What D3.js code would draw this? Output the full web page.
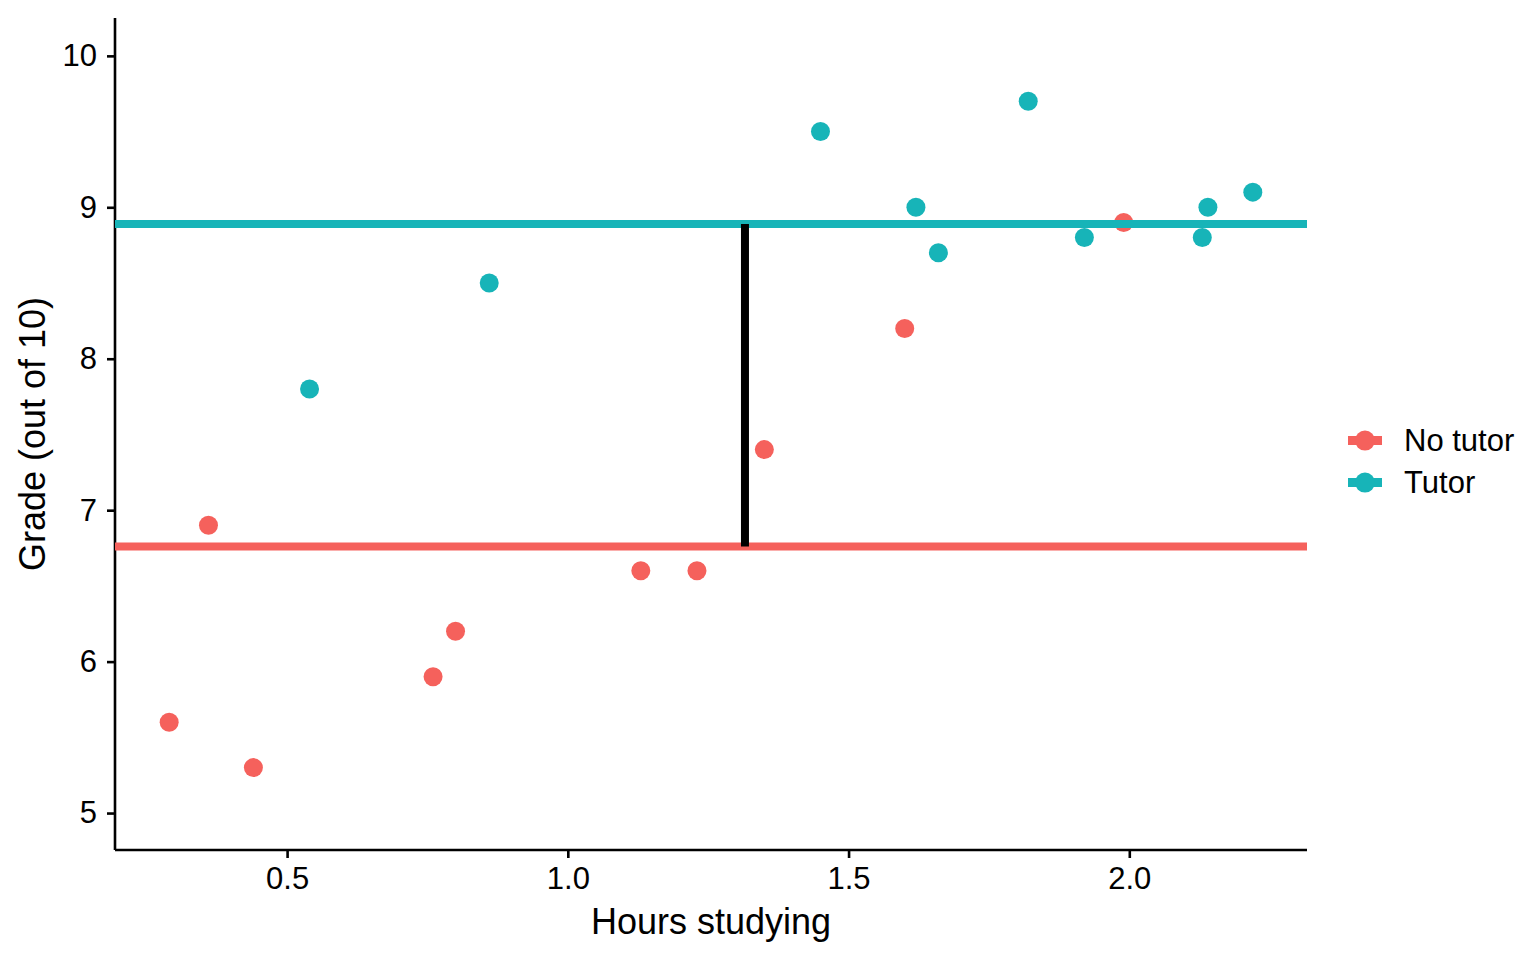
<!DOCTYPE html>
<html>
<head>
<meta charset="utf-8">
<script src="https://cdn.jsdelivr.net/npm/d3@7"></script>
<style>
  body { margin: 0; background: #fff; }
  text { font-family: "Liberation Sans", Arial, sans-serif; fill: #000; }
</style>
</head>
<body>
<div id="chart"></div>
<script>
// data
const groups = ["No tutor", "Tutor"];
const colors = ["#F5615C", "#17B4B8"];
const noTutorHours = [0.29, 0.36, 0.44, 0.76, 0.80, 1.13, 1.23, 1.35, 1.60, 1.99];
const noTutorGrade = [5.6, 6.9, 5.3, 5.9, 6.2, 6.6, 6.6, 7.4, 8.2, 8.9];
const tutorHours = [0.54, 0.86, 1.45, 1.62, 1.66, 1.82, 1.92, 2.13, 2.14, 2.22];
const tutorGrade = [7.8, 8.5, 9.5, 9.0, 8.7, 9.7, 8.8, 8.8, 9.0, 9.1];
const xTicks = [0.5, 1.0, 1.5, 2.0];
const yTicks = [5, 6, 7, 8, 9, 10];

const data = [
  ...noTutorHours.map((h, i) => ({ hours: h, grade: noTutorGrade[i], group: groups[0] })),
  ...tutorHours.map((h, i) => ({ hours: h, grade: tutorGrade[i], group: groups[1] }))
];
const means = groups.map(g => d3.mean(data.filter(d => d.group == g), d => d.grade));
const meanHours = d3.mean(data, d => d.hours);

// set the dimensions and margins of the graph
const W = 1536, H = 960;
const margin = { top: 18, right: 229, bottom: 110, left: 115 },
    width = W - margin.left - margin.right,
    height = H - margin.top - margin.bottom;

const svg = d3.select("#chart")
    .append("svg")
    .attr("width", W)
    .attr("height", H)
    .append("g")
    .attr("transform", `translate(${margin.left}, ${margin.top})`);

const color = d3.scaleOrdinal().domain(groups).range(colors);

// X axis
const x = d3.scaleLinear()
    .domain([0.1935, 2.3165])
    .range([0, width]);
const xAxis = svg.append("g")
    .attr("transform", `translate(0, ${height})`)
    .call(d3.axisBottom(x).tickValues(xTicks).tickFormat(d3.format(".1f")).tickSize(8).tickPadding(9));
svg.append("text")
    .attr("x", width / 2)
    .attr("y", height + 84)
    .attr("text-anchor", "middle")
    .style("font-size", "36px")
    .text("Hours studying");

// Y axis
const y = d3.scaleLinear()
    .domain([4.756, 10.25])
    .range([height, 0]);
const yAxis = svg.append("g")
    .call(d3.axisLeft(y).tickValues(yTicks).tickFormat(d3.format("d")).tickSize(8).tickPadding(10));
svg.append("text")
    .attr("transform", "rotate(-90)")
    .attr("x", -height / 2)
    .attr("y", -margin.left + 45)
    .attr("text-anchor", "middle")
    .style("font-size", "36px")
    .text("Grade (out of 10)");

[xAxis, yAxis].forEach(a => {
  a.select(".domain").attr("stroke-width", 2.6).attr("stroke", "#000");
  a.selectAll(".tick line").attr("stroke-width", 2.6).attr("stroke", "#000");
  a.selectAll(".tick text").style("font-size", "31px").attr("fill", "#000");
});
xAxis.select(".domain").attr("d", `M0,0H${width}`);
yAxis.select(".domain").attr("d", `M0,0V${height}`);

// points
svg.selectAll("circle.pt")
    .data(data)
    .join("circle")
    .attr("class", "pt")
    .attr("cx", d => x(d.hours))
    .attr("cy", d => y(d.grade))
    .attr("r", 9.5)
    .style("fill", d => color(d.group));

// group means
svg.selectAll("line.mean")
    .data(groups)
    .join("line")
    .attr("class", "mean")
    .attr("x1", 0)
    .attr("x2", width)
    .attr("y1", (g, i) => y(means[i]))
    .attr("y2", (g, i) => y(means[i]))
    .attr("stroke", g => color(g))
    .attr("stroke-width", 8);

// difference between the means
svg.append("line")
    .attr("x1", x(meanHours))
    .attr("x2", x(meanHours))
    .attr("y1", y(means[0]))
    .attr("y2", y(means[1]))
    .attr("stroke", "#000")
    .attr("stroke-width", 8);

// legend
const legend = svg.append("g")
    .attr("transform", `translate(${width + 41}, ${y(7.4) - 9})`);
const item = legend.selectAll("g")
    .data(groups)
    .join("g")
    .attr("transform", (g, i) => `translate(0, ${i * 42})`);
item.append("line")
    .attr("x1", 0).attr("x2", 34)
    .attr("stroke", g => color(g))
    .attr("stroke-width", 9);
item.append("circle")
    .attr("cx", 17)
    .attr("r", 10)
    .style("fill", g => color(g));
item.append("text")
    .attr("x", 56)
    .attr("dy", "0.35em")
    .style("font-size", "31px")
    .text(g => g);
</script>
</body>
</html>
